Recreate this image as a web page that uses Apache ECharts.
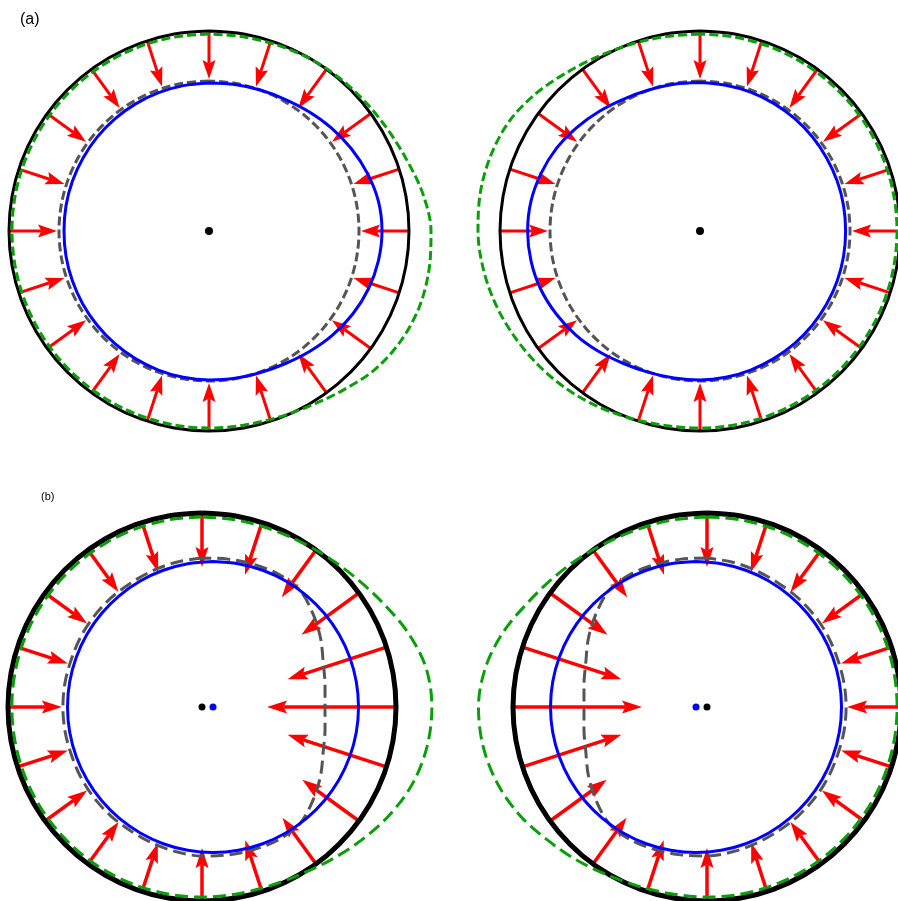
<!DOCTYPE html>
<html><head><meta charset="utf-8">
<script src="https://cdn.jsdelivr.net/npm/echarts@6/dist/echarts.min.js"></script>
<style>html,body{margin:0;padding:0;background:#fff}#c{width:898px;height:901px}</style>
</head><body><div id="c"></div>
<script>
// Angles (degrees, counter-clockwise from +x) at which the closed curves are read
const curveAngles = [0,10,20,30,40,50,60,70,80,90,100,110,120,130,140,150,160,170,180,190,200,210,220,230,240,250,260,270,280,290,300,310,320,330,340,350,360];
// Angles of the 20 red arrows
const arrowAngles = [0,18,36,54,72,90,108,126,144,162,180,198,216,234,252,270,288,306,324,342];

// ---- Panel (a): radii in units of the outer (black) circle ----
const aOuterRadius = 1.0;
const aGreyRadius = 0.75;
const aArrowStart = 1.0;
const aArrowTip = 0.76;
const aLeftBlue = [0.865,0.860,0.843,0.822,0.800,0.778,0.760,0.750,0.744,0.740,0.738,0.736,0.734,0.732,0.730,0.728,0.727,0.726,0.725,0.726,0.727,0.729,0.731,0.734,0.737,0.740,0.743,0.745,0.748,0.753,0.765,0.785,0.808,0.830,0.848,0.860,0.865];
const aLeftGreen = [1.110,1.085,1.050,1.027,1.013,1.005,0.998,0.990,0.986,0.985,0.985,0.985,0.985,0.985,0.985,0.985,0.985,0.985,0.985,0.985,0.985,0.985,0.985,0.985,0.985,0.985,0.985,0.985,0.986,0.993,1.010,1.040,1.080,1.105,1.118,1.117,1.110];
const aRightBlue = [0.728,0.729,0.730,0.731,0.733,0.735,0.737,0.739,0.740,0.742,0.745,0.750,0.762,0.782,0.805,0.828,0.845,0.858,0.862,0.858,0.848,0.830,0.810,0.787,0.765,0.752,0.746,0.745,0.743,0.740,0.737,0.735,0.733,0.731,0.730,0.729,0.728];
const aRightGreen = [0.985,0.985,0.985,0.985,0.985,0.985,0.985,0.985,0.985,0.985,0.987,0.995,1.010,1.035,1.070,1.100,1.112,1.115,1.110,1.100,1.085,1.067,1.050,1.033,1.015,0.998,0.988,0.985,0.985,0.985,0.985,0.985,0.985,0.985,0.985,0.985,0.985];

// ---- Panel (b) ----
const bOuterRadius = 1.0;
const bBlueRadius = 0.75;   // blue circle, drawn around its own (shifted) centre
const bArrowStart = 1.0;
const bLeftGrey = [0.634,0.644,0.665,0.706,0.747,0.785,0.790,0.782,0.774,0.768,0.758,0.747,0.737,0.732,0.727,0.722,0.717,0.717,0.717,0.717,0.717,0.722,0.727,0.732,0.737,0.747,0.758,0.768,0.774,0.782,0.790,0.785,0.747,0.706,0.665,0.644,0.634];
const bLeftGreen = [1.185,1.172,1.128,1.075,1.035,1.008,0.990,0.982,0.980,0.980,0.980,0.980,0.980,0.980,0.980,0.980,0.980,0.980,0.980,0.980,0.980,0.980,0.980,0.980,0.980,0.980,0.980,0.980,0.980,0.985,1.000,1.030,1.070,1.115,1.155,1.178,1.185];
const bLeftArrowTips = [0.335,0.464,0.634,0.700,0.717,0.722,0.732,0.732,0.732,0.727,0.722,0.727,0.732,0.732,0.737,0.727,0.722,0.706,0.639,0.464];
const bRightGrey = [0.717,0.717,0.717,0.722,0.727,0.732,0.737,0.747,0.758,0.768,0.774,0.782,0.790,0.785,0.747,0.706,0.665,0.644,0.634,0.644,0.665,0.706,0.747,0.785,0.790,0.782,0.774,0.768,0.758,0.747,0.737,0.732,0.727,0.722,0.717,0.717,0.717];
const bRightGreen = [0.980,0.980,0.980,0.980,0.980,0.980,0.980,0.980,0.980,0.980,0.980,0.982,0.990,1.010,1.035,1.070,1.120,1.160,1.178,1.172,1.150,1.115,1.070,1.035,1.005,0.988,0.980,0.980,0.980,0.980,0.980,0.980,0.980,0.980,0.980,0.980,0.980];
const bRightArrowTips = [0.722,0.727,0.732,0.732,0.732,0.722,0.717,0.700,0.634,0.464,0.335,0.464,0.639,0.706,0.722,0.727,0.737,0.732,0.732,0.727];

const panelLabels = ['(a)', '(b)'];

// ---------------- layout / style ----------------
const RMAX = 1.25;
const polarDefs = [
  {center:[209,231], unit:200}, // 0 a-left
  {center:[700,231], unit:200}, // 1 a-right
  {center:[202,707], unit:194}, // 2 b-left
  {center:[213,707], unit:194}, // 3 b-left blue centre
  {center:[707,707], unit:194}, // 4 b-right
  {center:[696,707], unit:194}  // 5 b-right blue centre
];
const RED='#ff0000', BLUE='#0000ff', GREEN='#0a9e0a', GREY='#555555', BLACK='#000000';

const hide = {show:false};
const polar = polarDefs.map(p => ({center:p.center, radius:p.unit*RMAX}));
const angleAxis = polarDefs.map((p,i) => ({polarIndex:i, type:'value', min:0, max:360, startAngle:0, clockwise:false,
  show:false, axisLine:hide, axisTick:hide, axisLabel:hide, splitLine:hide}));
const radiusAxis = polarDefs.map((p,i) => ({polarIndex:i, type:'value', min:0, max:RMAX,
  show:false, axisLine:hide, axisTick:hide, axisLabel:hide, splitLine:hide}));

// closed curve: walk the samples starting at the top (90 deg) so the seam sits on a smooth part
function closedData(radii) {
  const n = curveAngles.length - 1; // last sample repeats the first
  const start = curveAngles.indexOf(90);
  const out = [];
  for (let k = 0; k <= n; k++) {
    const i = (start + k) % n;
    out.push([Array.isArray(radii) ? radii[i] : radii, curveAngles[i]]);
  }
  return out;
}
function curve(pi, radii, color, width, dash) {
  return {type:'line', coordinateSystem:'polar', polarIndex:pi, silent:true, clip:false,
    data: closedData(radii),
    symbol:'none', showSymbol:false, smooth:0.33,
    lineStyle:{color:color, width:width, type: dash || 'solid'}};
}
function arrows(pi, start, tips, headLen, headW, lw) {
  return {type:'custom', coordinateSystem:'polar', polarIndex:pi, silent:true, clip:false,
    dimensions:['r0','ang','r1'], encode:{radius:'r0', angle:'ang'},
    data: arrowAngles.map((a,i) => [start, a, Array.isArray(tips) ? tips[i] : tips]),
    renderItem: function(params, api) {
      const ang = api.value(1);
      const p0 = api.coord([api.value(0), ang]);
      const p1 = api.coord([api.value(2), ang]);
      const dx = p1[0]-p0[0], dy = p1[1]-p0[1];
      const len = Math.hypot(dx, dy) || 1;
      const ux = dx/len, uy = dy/len, nx = -uy, ny = ux;
      const bx = p1[0]-ux*headLen, by = p1[1]-uy*headLen;
      const notch = headLen*0.18;
      const mx = bx+ux*notch, my = by+uy*notch;
      return {type:'group', children:[
        {type:'line', shape:{x1:p0[0], y1:p0[1], x2:mx, y2:my}, style:{stroke:RED, lineWidth:lw}},
        {type:'polygon', shape:{points:[[p1[0],p1[1]],[bx+nx*headW/2,by+ny*headW/2],[mx,my],[bx-nx*headW/2,by-ny*headW/2]]}, style:{fill:RED, stroke:null}}
      ]};
    }};
}
function dot(pi, color, size) {
  return {type:'scatter', coordinateSystem:'polar', polarIndex:pi, silent:true,
    data:[[0,0]], symbolSize:size, itemStyle:{color:color, opacity:1}};
}

const series = [
  // (a) left
  curve(0, aOuterRadius, BLACK, 3),
  curve(0, aLeftGreen, GREEN, 3, [9,4]),
  curve(0, aGreyRadius, GREY, 3, [9,4]),
  curve(0, aLeftBlue, BLUE, 3),
  arrows(0, aArrowStart, aArrowTip, 19, 13, 3),
  dot(0, BLACK, 8),
  // (a) right
  curve(1, aOuterRadius, BLACK, 3),
  curve(1, aRightGreen, GREEN, 3, [9,4]),
  curve(1, aGreyRadius, GREY, 3, [9,4]),
  curve(1, aRightBlue, BLUE, 3),
  arrows(1, aArrowStart, aArrowTip, 19, 13, 3),
  dot(1, BLACK, 8),
  // (b) left
  curve(2, bOuterRadius, BLACK, 5),
  curve(2, bLeftGreen, GREEN, 3, [13,6]),
  curve(2, bLeftGrey, GREY, 3, [13,6]),
  curve(3, bBlueRadius, BLUE, 3),
  arrows(2, bArrowStart, bLeftArrowTips, 20, 13, 3.5),
  dot(2, BLACK, 7),
  dot(3, BLUE, 7),
  // (b) right
  curve(4, bOuterRadius, BLACK, 5),
  curve(4, bRightGreen, GREEN, 3, [13,6]),
  curve(4, bRightGrey, GREY, 3, [13,6]),
  curve(5, bBlueRadius, BLUE, 3),
  arrows(4, bArrowStart, bRightArrowTips, 20, 13, 3.5),
  dot(4, BLACK, 7),
  dot(5, BLUE, 7)
];

const chart = echarts.init(document.getElementById('c'), null, {renderer:'canvas'});
chart.setOption({
  animation:false,
  backgroundColor:'#ffffff',
  polar: polar,
  angleAxis: angleAxis,
  radiusAxis: radiusAxis,
  graphic: [
    {type:'text', left:20, top:12, style:{text:panelLabels[0], fill:'#000', fontSize:16, fontFamily:'Liberation Sans, Arial, sans-serif'}},
    {type:'text', left:41, top:491, style:{text:panelLabels[1], fill:'#000', fontSize:11, fontFamily:'Liberation Sans, Arial, sans-serif'}}
  ],
  series: series
});
</script></body></html>
